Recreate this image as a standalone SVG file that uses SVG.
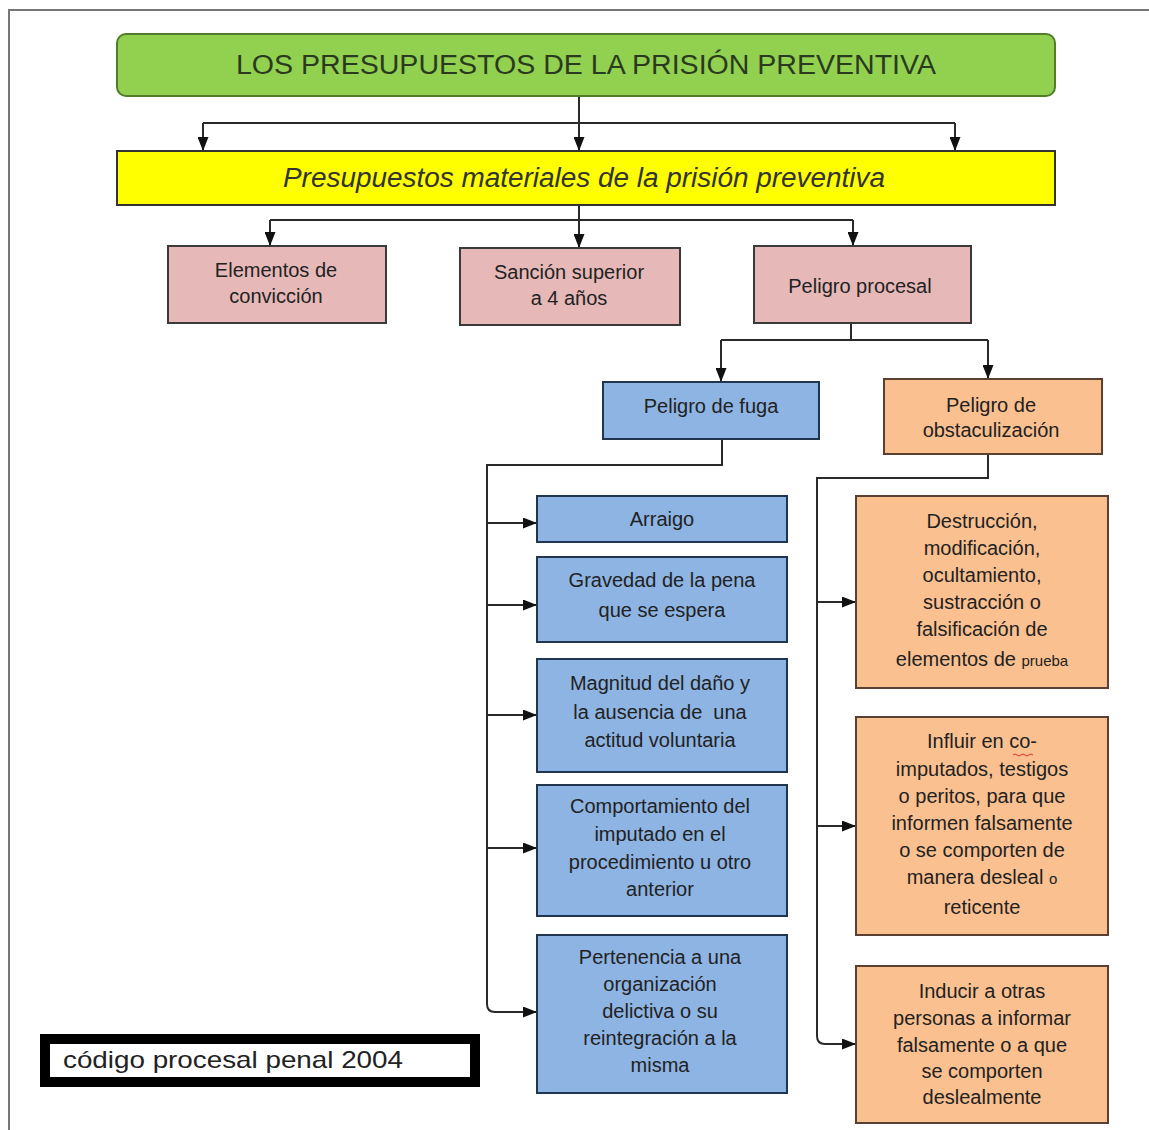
<svg xmlns="http://www.w3.org/2000/svg" width="1149" height="1130" viewBox="0 0 1149 1130">
<defs>
<marker id="ah" viewBox="0 0 14 11" refX="14" refY="5.5" markerWidth="14" markerHeight="11" markerUnits="userSpaceOnUse" orient="auto">
<path d="M0,0 L14,5.5 L0,11 z" fill="#111"/>
</marker>
<style>
.c{fill:none;stroke:#2a2a2a;stroke-width:2}
.a{fill:none;stroke:#2a2a2a;stroke-width:2;marker-end:url(#ah)}
.t{font-family:"Liberation Sans",Arial,sans-serif;font-size:20px;fill:#222;text-anchor:middle}
.pink{fill:#e6b9b8;stroke:#3a3a3a;stroke-width:2}
.blue{fill:#8db4e2;stroke:#1f3550;stroke-width:2}
.orange{fill:#fac090;stroke:#5a4030;stroke-width:2}
</style>
</defs>
<rect width="1149" height="1130" fill="#fff"/>
<path d="M9 1130 V10 H1149" fill="none" stroke="#777" stroke-width="2"/>

<g id="connectors">
<path class="c" d="M579 97 V123 M203 123 H955"/>
<path class="a" d="M203 123 V151"/>
<path class="a" d="M579 123 V151"/>
<path class="a" d="M955 123 V151"/>
<path class="c" d="M579 205 V220 M270 220 H853"/>
<path class="a" d="M270 220 V246"/>
<path class="a" d="M579 220 V248"/>
<path class="a" d="M853 220 V246"/>
<path class="c" d="M851 323 V340 M721 340 H988"/>
<path class="a" d="M721 340 V382"/>
<path class="a" d="M988 340 V379"/>
<path class="c" d="M722 439 V465 H487 V1004"/>
<path class="a" d="M487 1004 Q487 1012 495 1012 H537"/>
<path class="a" d="M487 523 H537"/>
<path class="a" d="M487 605 H537"/>
<path class="a" d="M487 715 H537"/>
<path class="a" d="M487 848 H537"/>
<path class="c" d="M988 454 V478 H817 V1036"/>
<path class="a" d="M817 1036 Q817 1044 825 1044 H856"/>
<path class="a" d="M817 602 H856"/>
<path class="a" d="M817 826 H856"/>
</g>

<g id="n-title">
<rect x="117" y="34" width="938" height="62" rx="9" fill="#92d050" stroke="#4f7d2a" stroke-width="2"/>
<text x="586" y="74" font-family="Liberation Sans, Arial, sans-serif" font-size="27" fill="#2a3a20" text-anchor="middle" textLength="700" lengthAdjust="spacingAndGlyphs">LOS PRESUPUESTOS DE LA PRISIÓN PREVENTIVA</text>
</g>
<g id="n-materiales">
<rect x="117" y="151" width="938" height="54" fill="#ffff00" stroke="#333" stroke-width="2"/>
<text x="584" y="187" font-family="Liberation Sans, Arial, sans-serif" font-size="27" font-style="italic" fill="#333" text-anchor="middle" textLength="602" lengthAdjust="spacingAndGlyphs">Presupuestos materiales de la prisión preventiva</text>
</g>
<g id="n-elementos">
<rect class="pink" x="168" y="246" width="218" height="77"/>
<text class="t" x="276" y="277">Elementos de</text>
<text class="t" x="276" y="303">convicción</text>
</g>
<g id="n-sancion">
<rect class="pink" x="460" y="248" width="220" height="77"/>
<text class="t" x="569" y="279">Sanción superior</text>
<text class="t" x="569" y="305">a 4 años</text>
</g>
<g id="n-procesal">
<rect class="pink" x="754" y="246" width="217" height="77"/>
<text class="t" x="860" y="293">Peligro procesal</text>
</g>
<g id="n-fuga">
<rect class="blue" x="603" y="382" width="216" height="57"/>
<text class="t" x="711" y="413">Peligro de fuga</text>
</g>
<g id="n-obst">
<rect class="orange" x="884" y="379" width="218" height="75"/>
<text class="t" x="991" y="412">Peligro de</text>
<text class="t" x="991" y="437">obstaculización</text>
</g>
<g id="n-arraigo">
<rect class="blue" x="537" y="496" width="250" height="46"/>
<text class="t" x="662" y="526">Arraigo</text>
</g>
<g id="n-gravedad">
<rect class="blue" x="537" y="557" width="250" height="85"/>
<text class="t" x="662" y="587">Gravedad de la pena</text>
<text class="t" x="662" y="617">que se espera</text>
</g>
<g id="n-magnitud">
<rect class="blue" x="537" y="659" width="250" height="113"/>
<text class="t" x="660" y="690">Magnitud del daño y</text>
<text class="t" x="660" y="719">la ausencia de&#160; una</text>
<text class="t" x="660" y="747">actitud voluntaria</text>
</g>
<g id="n-comportamiento">
<rect class="blue" x="537" y="785" width="250" height="131"/>
<text class="t" x="660" y="813">Comportamiento del</text>
<text class="t" x="660" y="841">imputado en el</text>
<text class="t" x="660" y="869">procedimiento u otro</text>
<text class="t" x="660" y="896">anterior</text>
</g>
<g id="n-pertenencia">
<rect class="blue" x="537" y="935" width="250" height="158"/>
<text class="t" x="660" y="964">Pertenencia a una</text>
<text class="t" x="660" y="991">organización</text>
<text class="t" x="660" y="1018">delictiva o su</text>
<text class="t" x="660" y="1045">reintegración a la</text>
<text class="t" x="660" y="1072">misma</text>
</g>
<g id="n-destruccion">
<rect class="orange" x="856" y="496" width="252" height="192"/>
<text class="t" x="982" y="528">Destrucción,</text>
<text class="t" x="982" y="555">modificación,</text>
<text class="t" x="982" y="582">ocultamiento,</text>
<text class="t" x="982" y="609">sustracción o</text>
<text class="t" x="982" y="636">falsificación de</text>
<text class="t" x="982" y="666">elementos de <tspan font-size="15">prueba</tspan></text>
</g>
<g id="n-influir">
<rect class="orange" x="856" y="717" width="252" height="218"/>
<text class="t" x="982" y="748">Influir en co-</text>
<path d="M1013 755 q2 -2 4 0 t4 0 t4 0 t4 0 t4 0" fill="none" stroke="#d33" stroke-width="1"/>
<text class="t" x="982" y="776">imputados, testigos</text>
<text class="t" x="982" y="803">o peritos, para que</text>
<text class="t" x="982" y="830">informen falsamente</text>
<text class="t" x="982" y="857">o se comporten de</text>
<text class="t" x="982" y="884">manera desleal <tspan font-size="15">o</tspan></text>
<text class="t" x="982" y="914">reticente</text>
</g>
<g id="n-inducir">
<rect class="orange" x="856" y="966" width="252" height="157"/>
<text class="t" x="982" y="998">Inducir a otras</text>
<text class="t" x="982" y="1025">personas a informar</text>
<text class="t" x="982" y="1052">falsamente o a que</text>
<text class="t" x="982" y="1078">se comporten</text>
<text class="t" x="982" y="1104">deslealmente</text>
</g>
<g id="n-codigo">
<rect x="45" y="1039" width="430" height="43" fill="#fff" stroke="#000" stroke-width="10"/>
<text x="63" y="1068" font-family="Liberation Sans, Arial, sans-serif" font-size="24" fill="#222" textLength="340" lengthAdjust="spacingAndGlyphs">código procesal penal 2004</text>
</g>
</svg>
